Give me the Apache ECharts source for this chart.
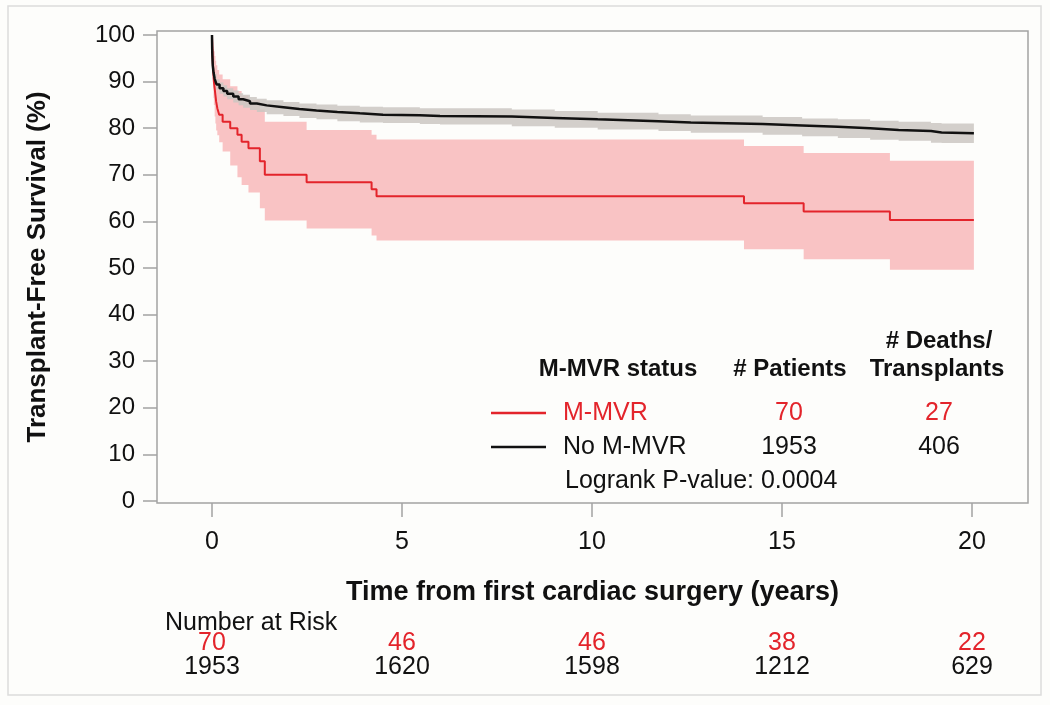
<!DOCTYPE html>
<html>
<head>
<meta charset="utf-8">
<script src="https://cdn.jsdelivr.net/npm/echarts@6/dist/echarts.min.js"></script>
<style>
html,body{margin:0;padding:0;background:#fdfdfb;}
#chart{width:1050px;height:705px;}
</style>
</head>
<body>
<div id="chart"></div>
<script>
// ---- data ----
const xTicks = [0, 5, 10, 15, 20];
const yTicks = [0, 10, 20, 30, 40, 50, 60, 70, 80, 90, 100];
const riskMMVR = [70, 46, 46, 38, 22];
const riskNoMMVR = [1953, 1620, 1598, 1212, 629];

const groups = ['M-MVR', 'No M-MVR'];
const patients = [70, 1953];
const deaths = [27, 406];
const logrankP = '0.0004';

// M-MVR Kaplan-Meier estimate (years, %)
const redTime = [0, 0.005, 0.01, 0.015, 0.02, 0.03, 0.04, 0.05, 0.07, 0.09, 0.11, 0.14, 0.19, 0.28, 0.48, 0.67, 0.78, 0.96, 1.26, 1.39, 2.49, 4.20, 4.33, 14.0, 15.57, 17.84, 20.05];
const redSurv = [100, 98.6, 97.1, 95.7, 94.3, 92.9, 91.4, 90.0, 88.6, 87.1, 85.7, 84.3, 82.9, 81.4, 80.0, 78.6, 77.1, 75.7, 72.9, 70.0, 68.4, 66.9, 65.4, 63.9, 62.1, 60.3, 60.3];
// M-MVR confidence band
const redCITime = [0, 0.005, 0.01, 0.02, 0.03, 0.04, 0.05, 0.07, 0.09, 0.11, 0.14, 0.19, 0.28, 0.48, 0.67, 0.78, 0.96, 1.26, 1.39, 2.49, 4.20, 4.33, 14.0, 15.57, 17.84, 20.05];
const redLower = [100, 95, 93, 90.5, 88.5, 86.5, 85, 82.5, 81, 79.5, 78.5, 77, 75, 72, 69.5, 67.8, 66.2, 62.8, 60.2, 58.5, 57.0, 55.9, 54.0, 51.9, 49.6, 49.6];
const redUpper = [100, 99.5, 99, 98.5, 97.5, 97, 96.5, 95.5, 94.5, 93.5, 92.5, 91.5, 90.5, 89, 88, 87, 86, 84, 81.4, 79.6, 78.6, 77.6, 76.2, 74.7, 73.0, 73.0];

// No M-MVR Kaplan-Meier estimate (years, %)
const blackTime = [0, 0.005, 0.01, 0.02, 0.04, 0.07, 0.12, 0.2, 0.3, 0.4, 0.56, 0.7, 0.82, 1.0, 1.18, 1.44, 1.88, 2.3, 2.75, 3.3, 3.89, 4.5, 5.47, 6.0, 7.89, 9.02, 10.15, 11.75, 12.6, 14.49, 15.53, 16.47, 17.32, 18.07, 18.92, 19.2, 20.05];
const blackSurv = [100, 97, 95.5, 93.5, 92, 90.6, 89.4, 88.6, 88.0, 87.4, 86.8, 86.2, 85.8, 85.3, 84.9, 84.5, 84.1, 83.8, 83.5, 83.2, 82.9, 82.8, 82.6, 82.5, 82.2, 81.9, 81.5, 81.2, 80.9, 80.6, 80.3, 80.0, 79.6, 79.4, 79.1, 78.9, 78.9];
const blackLower = [100, 96, 94.5, 92.5, 91, 89.5, 88.3, 87.4, 86.8, 86.2, 85.5, 84.9, 84.4, 83.9, 83.5, 83.0, 82.6, 82.2, 81.9, 81.5, 81.2, 81.1, 80.9, 80.8, 80.4, 80.1, 79.7, 79.4, 79.0, 78.6, 78.3, 77.9, 77.5, 77.3, 76.9, 76.8, 76.8];
const blackUpper = [100, 98, 96.5, 94.5, 93, 91.7, 90.5, 89.8, 89.2, 88.6, 88.1, 87.5, 87.2, 86.7, 86.3, 86.0, 85.6, 85.3, 85.1, 84.8, 84.6, 84.5, 84.3, 84.3, 84.0, 83.7, 83.3, 83.0, 82.7, 82.4, 82.1, 81.9, 81.6, 81.4, 81.1, 81.0, 81.0];

// ---- build ----
const FONT = "'Liberation Sans', Arial, Helvetica, sans-serif";
const RED = '#e3242b';
const BLACK = '#111111';
const zip = (xs, ys) => xs.map((x, i) => [x, ys[i]]);

const chart = echarts.init(document.getElementById('chart'));

const xMin = -1.447, xMax = 21.474;
const hiddenX = (offset, color, arr) => ({
  type: 'value', gridIndex: 0, min: xMin, max: xMax, position: 'bottom', offset: offset,
  axisLine: {show: false, onZero: false}, axisTick: {show: false}, splitLine: {show: false},
  axisLabel: {
    customValues: xTicks, margin: 0, color: color, fontFamily: FONT, fontSize: 25,
    formatter: v => String(arr[xTicks.indexOf(Math.round(v))])
  }
});

// step-shaped confidence band drawn as one polygon through the axis scales
const bandSeries = (name, t, lo, hi, color, opacity) => ({
  name: name, type: 'custom', silent: true, clip: true,
  data: [[t[0], lo[0]]],
  renderItem: (params, api) => {
    const top = [], bottom = [];
    for (let i = 0; i < t.length; i++) {
      const tNext = i + 1 < t.length ? t[i + 1] : t[i];
      top.push(api.coord([t[i], hi[i]]), api.coord([tNext, hi[i]]));
      bottom.push(api.coord([t[i], lo[i]]), api.coord([tNext, lo[i]]));
    }
    return {
      type: 'polygon',
      shape: {points: top.concat(bottom.reverse())},
      style: {fill: color, opacity: opacity}
    };
  }
});

const legendTop = [];
const rowY = [413, 447];
const rowColor = [RED, BLACK];
groups.forEach((g, i) => {
  legendTop.push(
    {type: 'line', shape: {x1: 491, y1: rowY[i], x2: 546, y2: rowY[i]}, style: {stroke: rowColor[i], lineWidth: 2.5}},
    {type: 'text', x: 563, y: rowY[i], style: {text: g, fill: rowColor[i], font: '25px ' + FONT, align: 'left', verticalAlign: 'middle'}},
    {type: 'text', x: 789, y: rowY[i], style: {text: String(patients[i]), fill: rowColor[i], font: '25px ' + FONT, align: 'center', verticalAlign: 'middle'}},
    {type: 'text', x: 939, y: rowY[i], style: {text: String(deaths[i]), fill: rowColor[i], font: '25px ' + FONT, align: 'center', verticalAlign: 'middle'}}
  );
});

const option = {
  backgroundColor: '#fdfdfb',
  animation: false,
  grid: {left: 157, right: 22, top: 31, bottom: 202, show: true, borderColor: '#a3a3a3', borderWidth: 1.5, backgroundColor: 'transparent'},
  xAxis: [
    {
      type: 'value', min: xMin, max: xMax, position: 'bottom',
      name: 'Time from first cardiac surgery (years)', nameLocation: 'middle', nameGap: 76,
      nameTextStyle: {fontFamily: FONT, fontSize: 27, fontWeight: 'bold', color: '#111'},
      axisLine: {show: false, onZero: false},
      axisTick: {show: true, customValues: xTicks, length: 14, lineStyle: {color: '#a3a3a3', width: 1.5}},
      axisLabel: {customValues: xTicks, margin: 27, fontFamily: FONT, fontSize: 25, color: '#111'},
      splitLine: {show: false}
    },
    hiddenX(128, RED, riskMMVR),
    hiddenX(152, BLACK, riskNoMMVR)
  ],
  yAxis: {
    type: 'value', min: -0.43, max: 100.86, position: 'left',
    name: 'Transplant-Free Survival (%)', nameLocation: 'middle', nameGap: 106,
    nameTextStyle: {fontFamily: FONT, fontSize: 26, fontWeight: 'bold', color: '#111'},
    axisLine: {show: false, onZero: false},
    axisTick: {show: true, customValues: yTicks, length: 14, lineStyle: {color: '#a3a3a3', width: 1.5}},
    axisLabel: {customValues: yTicks, margin: 22, fontFamily: FONT, fontSize: 24, color: '#111'},
    splitLine: {show: false}
  },
  series: [
    bandSeries('M-MVR CI', redCITime, redLower, redUpper, '#f9c3c4', 1),
    bandSeries('No M-MVR CI', blackTime, blackLower, blackUpper, '#cbc7c2', 0.85),
    {name: 'M-MVR', type: 'line', step: 'end', symbol: 'none', data: zip(redTime, redSurv), lineStyle: {color: RED, width: 2}},
    {name: 'No M-MVR', type: 'line', step: 'end', symbol: 'none', data: zip(blackTime, blackSurv), lineStyle: {color: BLACK, width: 2.5}}
  ],
  graphic: [
    {type: 'rect', shape: {x: 8, y: 6, width: 1033, height: 689}, style: {fill: 'none', stroke: '#dcdcdc', lineWidth: 1.5}, silent: true, z: -10},
    {type: 'text', x: 618, y: 369, style: {text: 'M-MVR status', fill: '#111', font: 'bold 24px ' + FONT, align: 'center', verticalAlign: 'middle'}},
    {type: 'text', x: 790, y: 369, style: {text: '# Patients', fill: '#111', font: 'bold 24px ' + FONT, align: 'center', verticalAlign: 'middle'}},
    {type: 'text', x: 939, y: 341, style: {text: '# Deaths/', fill: '#111', font: 'bold 24px ' + FONT, align: 'center', verticalAlign: 'middle'}},
    {type: 'text', x: 937, y: 369, style: {text: 'Transplants', fill: '#111', font: 'bold 24px ' + FONT, align: 'center', verticalAlign: 'middle'}},
    ...legendTop,
    {type: 'text', x: 565, y: 481, style: {text: 'Logrank P-value: ' + logrankP, fill: '#111', font: '25px ' + FONT, align: 'left', verticalAlign: 'middle'}},
    {type: 'text', x: 165, y: 623, style: {text: 'Number at Risk', fill: '#111', font: '25px ' + FONT, align: 'left', verticalAlign: 'middle'}}
  ]
};
chart.setOption(option);
</script>
</body>
</html>
